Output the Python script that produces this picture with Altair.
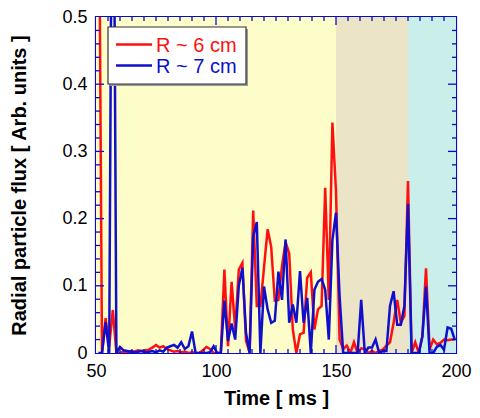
import altair as alt
import pandas as pd

# ---------------- data ----------------
time_ms = [51, 52.5, 54, 55.5, 57, 58.5, 60, 61.5, 63, 64.5, 66, 67.5, 69, 70.5, 72, 73.5,
           75, 76.5, 78, 79.5, 81, 82.5, 84, 85.5, 87, 88.5, 90, 91.5, 93, 94.5, 96, 97.5,
           99, 100.5, 102, 103.5, 105, 106.5, 108, 109.5, 111, 112.5, 114, 115.5, 117, 118.5,
           120, 121.5, 123, 124.5, 126, 127.5, 129, 130.5, 132, 133.5, 135, 136.5, 138, 139.5,
           141, 142.5, 144, 145.5, 147, 148.5, 150, 151.5, 153, 154.5, 156, 157.5, 159, 160.5,
           162, 163.5, 165, 166.5, 168, 169.5, 171, 172.5, 174, 175.5, 177, 178.5, 180, 181.5,
           183, 184.5, 186, 187.5, 189, 190.5, 192, 193.5, 195, 196.5, 198, 199.5]

flux_r6 = [0.85, 0, 0.052, 0.01, 0.064, 0, 0, 0.002, 0.001, 0.003, 0.002, 0.004, 0.003, 0.004,
           0.005, 0.008, 0.012, 0.008, 0.01, 0.006, 0.004, 0.002, 0.003, 0.001, 0.002, 0, 0.001,
           0, 0, 0.004, 0.009, 0.006, 0, 0, 0, 0.124, 0.01, 0.106, 0.035, 0.124, 0.134, 0.018,
           0.001, 0.212, 0.07, 0.07, 0.127, 0.184, 0.158, 0.078, 0.079, 0.13, 0.165, 0.148,
           0.035, 0, 0.028, 0.03, 0.112, 0.12, 0.035, 0.065, 0.07, 0.246, 0.079, 0.343, 0.24,
           0.02, 0.006, 0.011, 0, 0.016, 0, 0.007, 0.006, 0, 0.003, 0, 0.003, 0.005, 0.011,
           0.016, 0.045, 0.079, 0.045, 0.055, 0.256, 0, 0.016, 0, 0.025, 0.126, 0.005, 0.02,
           0.013, 0.015, 0.02, 0.019, 0.02, 0.02]

flux_r7 = [0, 0, 0.046, 0, 1.0, 0, 0.009, 0.004, 0.003, 0.002, 0.001, 0.002, 0.003, 0.001,
           0.002, 0.003, 0.001, 0.004, 0.002, 0.008, 0.01, 0.012, 0.008, 0.016, 0.006, 0.01,
           0.032, 0, 0, 0, 0, 0.001, 0.01, 0, 0, 0.078, 0.018, 0.044, 0.02, 0.1, 0.127, 0.03,
           0, 0.173, 0.195, 0, 0.099, 0.065, 0.045, 0.048, 0.121, 0.079, 0.169, 0.045, 0.072,
           0.045, 0.122, 0.045, 0.082, 0, 0.094, 0.106, 0.11, 0.094, 0.02, 0.168, 0.209, 0.084,
           0, 0, 0, 0, 0, 0.079, 0, 0.008, 0.008, 0.02, 0, 0.003, 0.003, 0.07, 0.092, 0.042,
           0.042, 0.07, 0.222, 0, 0, 0, 0.025, 0.099, 0, 0, 0.009, 0.012, 0.005, 0.038, 0.036,
           0.02]

series_names = ["R ~ 6 cm", "R ~ 7 cm"]
series_colors = ["#ff1010", "#1010cc"]

band_start = [50, 150, 180]
band_end = [150, 180, 200]
band_colors = ["#fdfdc9", "#ece4c6", "#caeeea"]

x_labels = [50, 100, 150, 200]
y_labels = [0, 0.1, 0.2, 0.3, 0.4, 0.5]
x_major_inner = [100, 150]
x_minor = [55, 60, 65, 70, 75, 80, 85, 90, 95, 105, 110, 115, 120, 125, 130, 135, 140, 145,
           155, 160, 165, 170, 175, 180, 185, 190, 195]
y_major_inner = [0.1, 0.2, 0.3, 0.4]
y_minor = [0.02, 0.04, 0.06, 0.08, 0.12, 0.14, 0.16, 0.18, 0.22, 0.24, 0.26, 0.28,
           0.32, 0.34, 0.36, 0.38, 0.42, 0.44, 0.46, 0.48]

# ---------------- layout constants ----------------
W, H = 360, 336
FRAME = "#0a0ac8"
FONT = "Liberation Sans"

xs = alt.Scale(domain=[50, 200], nice=False, zero=False)
ys = alt.Scale(domain=[0, 0.5], nice=False, zero=False)

x_axis = alt.Axis(
    values=x_labels, title="Time [ ms ]", grid=False, domain=False, ticks=False,
    tickSize=0, labelFontSize=18, labelFont=FONT, labelColor="black",
    labelPadding=9, labelOverlap=False, labelFlush=False,
    titleFont=FONT, titleFontSize=20, titleFontWeight="bold", titleColor="black",
    titlePadding=8)
y_axis = alt.Axis(
    values=y_labels, format=".1~f", title="Radial particle flux [ Arb. units ]",
    grid=False, domain=False, ticks=False, tickSize=0, labelFontSize=18,
    labelFont=FONT, labelColor="black", labelPadding=9, labelOverlap=False,
    labelFlush=False, titleFont=FONT, titleFontSize=20, titleFontWeight="bold",
    titleColor="black", titlePadding=32)

lines_df = pd.DataFrame({
    "t": time_ms + time_ms,
    "flux": flux_r6 + flux_r7,
    "series": [series_names[0]] * len(time_ms) + [series_names[1]] * len(time_ms),
})
bands_df = pd.DataFrame({"start": band_start, "end": band_end, "color": band_colors})

bands = alt.Chart(bands_df).mark_rect().encode(
    x=alt.X("start:Q", scale=xs, axis=x_axis, title="Time [ ms ]"),
    x2="end:Q",
    y=alt.value(0),
    y2=alt.value(H),
    color=alt.Color("color:N", scale=None, legend=None),
)

lines = alt.Chart(lines_df).mark_line(clip=True, strokeWidth=2.5).encode(
    x=alt.X("t:Q", scale=xs, axis=x_axis, title="Time [ ms ]"),
    y=alt.Y("flux:Q", scale=ys, axis=y_axis, title="Radial particle flux [ Arb. units ]"),
    color=alt.Color("series:N", scale=alt.Scale(domain=series_names, range=series_colors),
                    legend=None),
    detail="series:N",
)


def yticks(vals, x0, x1):
    return alt.Chart(pd.DataFrame({"v": vals})).mark_rule(color=FRAME, strokeWidth=1.3).encode(
        y=alt.Y("v:Q", scale=ys, axis=y_axis, title="Radial particle flux [ Arb. units ]"),
        x=alt.value(x0), x2=alt.value(x1))


def xticks(vals, y0, y1):
    return alt.Chart(pd.DataFrame({"v": vals})).mark_rule(color=FRAME, strokeWidth=1.3).encode(
        x=alt.X("v:Q", scale=xs, axis=x_axis, title="Time [ ms ]"),
        y=alt.value(y0), y2=alt.value(y1))


ticks = [
    yticks(y_major_inner, 0, 8), yticks(y_minor, 0, 4),
    yticks(y_major_inner, W - 8, W), yticks(y_minor, W - 4, W),
    xticks(x_major_inner, H, H - 8), xticks(x_minor, H, H - 4),
    xticks(x_major_inner, 0, 8), xticks(x_minor, 0, 4),
]

# ---------------- legend (drawn by hand, top-left inside plot) ----------------
LX0, LX1, LY0, LY1 = 12, 150, 10, 67
legend_shadow = alt.Chart().mark_rect(fill="#9a9a9a").encode(
    x=alt.value(LX0 + 2), x2=alt.value(LX1 + 2), y=alt.value(LY0 + 2), y2=alt.value(LY1 + 2))
legend_box = alt.Chart().mark_rect(fill="white", stroke="#333333", strokeWidth=1.2).encode(
    x=alt.value(LX0), x2=alt.value(LX1), y=alt.value(LY0), y2=alt.value(LY1))
legend_items = []
for i, (name, col) in enumerate(zip(series_names, series_colors)):
    yy = 27.5 + 21 * i
    legend_items.append(alt.Chart().mark_rule(color=col, strokeWidth=2.5).encode(
        x=alt.value(20), x2=alt.value(56), y=alt.value(yy)))
    legend_items.append(alt.Chart().mark_text(
        text=name, align="left", baseline="middle", fontSize=20, font=FONT, color=col).encode(
        x=alt.value(60), y=alt.value(yy + 1)))

chart = alt.layer(bands, lines, *ticks, legend_shadow, legend_box, *legend_items).properties(
    width=W, height=H,
    autosize=alt.AutoSizeParams(type="none"),
    padding={"left": 88, "top": 9, "right": 16, "bottom": 57},
).configure_view(stroke=FRAME, strokeWidth=2.2)

chart.save("out.html", embed_options={"renderer": "svg", "actions": False})
